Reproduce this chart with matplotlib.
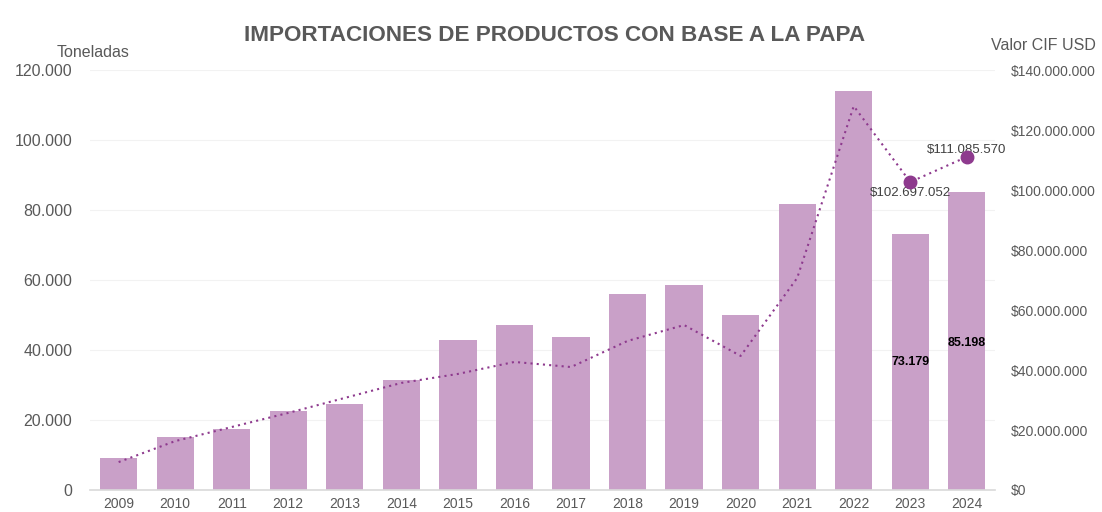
import matplotlib
matplotlib.use("Agg")
import matplotlib.pyplot as plt
from matplotlib.ticker import FuncFormatter

plt.rcParams['font.family'] = ['Liberation Sans', 'DejaVu Sans']

years = ["2009", "2010", "2011", "2012", "2013", "2014", "2015", "2016",
         "2017", "2018", "2019", "2020", "2021", "2022", "2023", "2024"]
toneladas = [9100, 15100, 17400, 22600, 24600, 31400, 42900, 47100,
             43700, 56000, 58600, 50000, 81700, 114000, 73179, 85198]
valor_usd = [9.3e6, 16.3e6, 21.0e6, 25.7e6, 30.7e6, 35.7e6, 38.7e6, 42.7e6,
             41.0e6, 49.7e6, 55.0e6, 44.7e6, 70.7e6, 128.0e6, 102697052, 111085570]
left_ticks = [0, 20000, 40000, 60000, 80000, 100000, 120000]
right_ticks = [0, 20e6, 40e6, 60e6, 80e6, 100e6, 120e6, 140e6]

def miles(v):
    return f"{int(round(v)):,}".replace(",", ".")

bar_color = "#C9A0C8"
line_color = "#8E3A8E"
text_color = "#595959"

fig = plt.figure(figsize=(11.02, 5.12), dpi=100)
ax = fig.add_axes([0.082, 0.043, 0.821, 0.820])
x = list(range(len(years)))
ax.bar(x, toneladas, width=0.66, color=bar_color, zorder=2)
ax.set_xlim(-0.5, len(years) - 0.5)
ax.set_ylim(0, 120000)
ax.set_yticks(left_ticks)
ax.yaxis.set_major_formatter(FuncFormatter(lambda v, p: miles(v)))
ax.set_xticks(x)
ax.set_xticklabels(years)
ax.tick_params(axis="y", length=0, pad=13, labelsize=11.5, labelcolor=text_color)
ax.tick_params(axis="x", length=0, pad=5, labelsize=10, labelcolor=text_color)
ax.grid(axis="y", color="#F2F2F2", linewidth=0.8, zorder=0)
for s in ["top", "left", "right"]:
    ax.spines[s].set_visible(False)
ax.spines["bottom"].set_color("#D9D9D9")
ax.spines["bottom"].set_linewidth(1.2)

label_drop = {14: 36600, 15: 43200}
for i, d in label_drop.items():
    ax.text(x[i], toneladas[i] - d, miles(toneladas[i]),
            ha="center", va="center", fontsize=9, fontweight="bold", color="black", zorder=5)

ax2 = ax.twinx()
ax2.plot(x, valor_usd, linestyle=(0, (1, 2.0)), color=line_color, linewidth=1.5, zorder=3)
ax2.plot(x[14:], valor_usd[14:], linestyle="none", marker="o", markersize=9,
         color=line_color, zorder=4)
ax2.set_ylim(0, 140e6)
ax2.set_yticks(right_ticks)
ax2.yaxis.set_major_formatter(FuncFormatter(lambda v, p: "$" + miles(v)))
ax2.tick_params(axis="y", length=0, pad=11, labelsize=10, labelcolor=text_color)
for s in ["top", "left", "right", "bottom"]:
    ax2.spines[s].set_visible(False)

ax2.annotate("$" + miles(valor_usd[14]), (x[14], valor_usd[14]), xytext=(0, -8),
             textcoords="offset points", ha="center", va="center", fontsize=9.5, color="#404040")
ax2.annotate("$" + miles(valor_usd[15]), (x[15], valor_usd[15]), xytext=(0, 5),
             textcoords="offset points", ha="center", va="center", fontsize=9.5, color="#404040")

fig.text(0.503, 0.93, "IMPORTACIONES DE PRODUCTOS CON BASE A LA PAPA", ha="center",
         va="center", fontsize=16.2, fontweight="bold", color=text_color)
fig.text(0.084, 0.898, "Toneladas", ha="center", va="center", fontsize=11.5, color=text_color)
fig.text(0.947, 0.912, "Valor CIF USD", ha="center", va="center", fontsize=11.5, color=text_color)

fig.savefig("out.png", dpi=100, facecolor="white")
